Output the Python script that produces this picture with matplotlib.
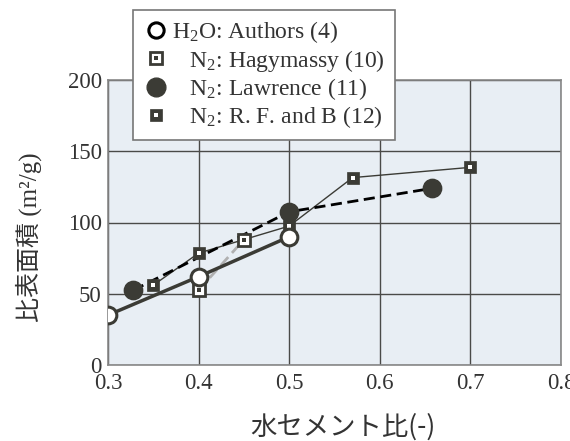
import matplotlib
matplotlib.use("Agg")
import matplotlib.pyplot as plt
from matplotlib.lines import Line2D
from matplotlib.legend_handler import HandlerTuple

plt.rcParams['font.family'] = ['Liberation Serif', 'Noto Sans CJK JP']
plt.rcParams['mathtext.fontset'] = 'custom'
plt.rcParams['mathtext.rm'] = 'Liberation Serif'
plt.rcParams['mathtext.it'] = 'Liberation Serif:italic'

# data
h2o_x = [0.30, 0.40, 0.50]
h2o_y = [35, 62, 90]

hag_x = [0.40, 0.45]
hag_y = [52.5, 88]

law_x = [0.328, 0.50, 0.658]
law_y = [52.5, 107.5, 124]

rfb_x = [0.35, 0.40, 0.45, 0.50, 0.57, 0.70]
rfb_y = [56, 78.5, 88, 97.5, 131.5, 138.7]

xticks = [0.3, 0.4, 0.5, 0.6, 0.7, 0.8]
yticks = [0, 50, 100, 150, 200]

dark = '#3b3b35'
txt = '#333333'

fig = plt.figure(figsize=(5.7, 4.41), dpi=100)
ax = fig.add_axes([108/570, 1-365/441, (561-108)/570, (365-80)/441])
ax.set_facecolor('#e8eef4')

# R. F. and B  - thin solid, dark squares with white dot
ax.plot(rfb_x, rfb_y, '-', color=dark, lw=1.0, zorder=3)
ax.plot(rfb_x, rfb_y, 's', ms=9.3, mfc=dark, mec=dark, mew=0.5, zorder=4)
ax.plot(rfb_x, rfb_y, 's', ms=2.2, mfc='white', mew=0, zorder=4.1)

# Hagymassy - grey dashed, open squares with dark dot
ax.plot(hag_x, hag_y, '--', color='#b0b0b0', lw=2.0, dashes=(4, 2), zorder=3)
ax.plot(hag_x, hag_y, 's', ms=9.3, mfc='white', mec=dark, mew=2, zorder=5)
ax.plot(hag_x, hag_y, 's', ms=2.4, mfc=dark, mew=0, zorder=5.1)

# Lawrence - black dashed, filled circles
ax.plot(law_x, law_y, '--', color='black', lw=2.0, dashes=(4, 2), zorder=3)
ax.plot(law_x, law_y, 'o', ms=13.2, mfc=dark, mec=dark, zorder=4.5)

# Authors - thick solid, open circles
ax.plot(h2o_x, h2o_y, '-', color=dark, lw=2.5, zorder=3)
ax.plot(h2o_x, h2o_y, 'o', ms=12, mfc='white', mec=dark, mew=2.2, zorder=6)

ax.set_xlim(0.3, 0.8)
ax.set_ylim(0, 200)
ax.set_xticks(xticks)
ax.set_yticks(yticks)
ax.set_xticklabels(['%.1f' % v for v in xticks])
ax.set_yticklabels([str(v) for v in yticks])
ax.tick_params(length=0, labelsize=16.5, colors=txt)
ax.tick_params(axis='x', pad=5.5)
ax.tick_params(axis='y', pad=4.5)
ax.grid(True, color='#4a4a48', lw=1.0)
ax.set_axisbelow(True)
for s in ax.spines.values():
    s.set_color('#888888')
    s.set_linewidth(1.2)

fig.text(29/570, 1-237/441, '比表面積 (m²/g)', fontsize=18, color=txt,
         rotation=90, ha='center', va='center')
fig.text(343/570, 1-427/441, '水セメント比(-)', fontsize=19, color=txt,
         ha='center', va='center', family=['Noto Sans CJK JP'])

h_auth = Line2D([], [], ls='', marker='o', ms=11, mfc='white', mec='black', mew=2.2)
h_hag = (Line2D([], [], ls='', marker='s', ms=8.5, mfc='white', mec=dark, mew=2),
         Line2D([], [], ls='', marker='s', ms=2.2, mfc=dark, mew=0))
h_law = Line2D([], [], ls='', marker='o', ms=13.5, mfc=dark, mec=dark)
h_rfb = (Line2D([], [], ls='', marker='s', ms=9, mfc=dark, mec=dark, mew=0.5),
         Line2D([], [], ls='', marker='s', ms=2.2, mfc='white', mew=0))

labels = [r'H$_2$O: Authors (4)', r'   N$_2$: Hagymassy (10)',
          r'   N$_2$: Lawrence (11)', r'   N$_2$: R. F. and B (12)']
leg = fig.legend([h_auth, h_hag, h_law, h_rfb], labels,
                 handler_map={tuple: HandlerTuple(ndivide=1, pad=0)},
                 loc='upper left', bbox_to_anchor=(133/570, 1-10/441),
                 bbox_transform=fig.transFigure, borderaxespad=0,
                 fontsize=17, frameon=True, fancybox=False, framealpha=1,
                 edgecolor='#777777', handlelength=1.15, handletextpad=0.12,
                 labelspacing=0.1, borderpad=0.4)
for t in leg.get_texts():
    t.set_color(txt)
leg.get_frame().set_linewidth(1.2)
leg.set_zorder(10)

fig.savefig('out.png', dpi=100)
